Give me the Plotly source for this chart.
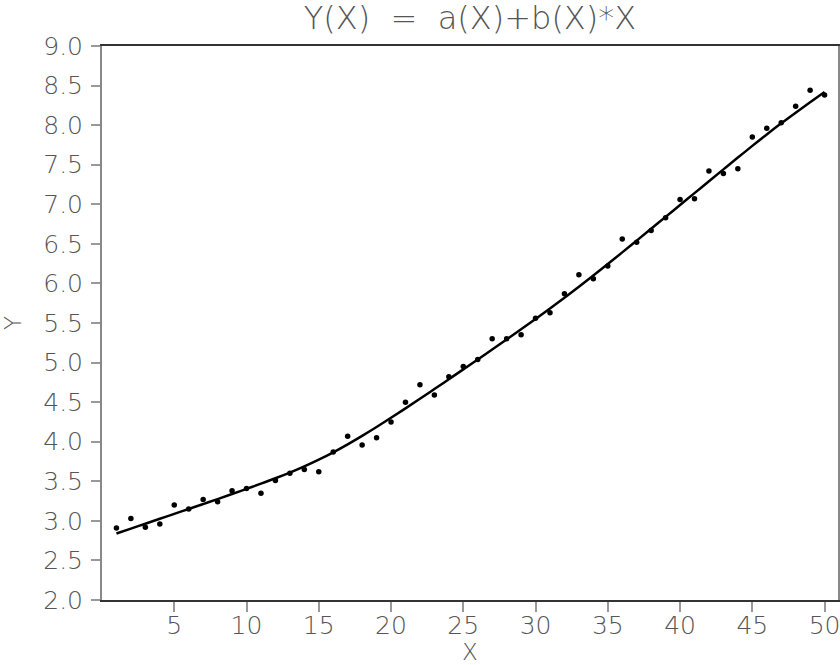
import plotly.graph_objects as go

x_vals = list(range(1, 51))
y_points = [2.91, 3.03, 2.92, 2.96, 3.20, 3.15, 3.27, 3.24, 3.38, 3.41,
            3.35, 3.51, 3.60, 3.65, 3.62, 3.87, 4.07, 3.96, 4.05, 4.25,
            4.50, 4.72, 4.59, 4.82, 4.95, 5.04, 5.30, 5.30, 5.35, 5.56,
            5.63, 5.87, 6.11, 6.06, 6.22, 6.56, 6.52, 6.67, 6.83, 7.06,
            7.07, 7.42, 7.39, 7.45, 7.85, 7.96, 8.03, 8.24, 8.44, 8.38]
y_fit = [2.840, 2.902, 2.964, 3.026, 3.088, 3.150, 3.212, 3.275, 3.339, 3.404,
         3.470, 3.538, 3.610, 3.688, 3.773, 3.866, 3.967, 4.074, 4.186, 4.302,
         4.421, 4.542, 4.665, 4.789, 4.914, 5.039, 5.165, 5.292, 5.420, 5.550,
         5.683, 5.819, 5.958, 6.100, 6.245, 6.392, 6.541, 6.691, 6.841, 6.991,
         7.141, 7.291, 7.441, 7.590, 7.738, 7.883, 8.023, 8.158, 8.290, 8.420]
x_ticks = [5, 10, 15, 20, 25, 30, 35, 40, 45, 50]
y_ticks = [2.0, 2.5, 3.0, 3.5, 4.0, 4.5, 5.0, 5.5, 6.0, 6.5, 7.0, 7.5, 8.0, 8.5, 9.0]
title_text = "Y(X)\u00a0\u00a0=\u00a0\u00a0a(X)+b(X)*X"

fig = go.Figure()
fig.add_trace(go.Scatter(x=x_vals, y=y_fit, mode="lines", line=dict(color="black", width=2.5, shape="spline"),
                         showlegend=False, hoverinfo="skip"))
fig.add_trace(go.Scatter(x=x_vals, y=y_points, mode="markers", marker=dict(color="black", size=5.5),
                         showlegend=False))

font_family = "DejaVu Sans ExtraLight, DejaVu Sans, sans-serif"
txt_color = "#555"
fig.update_layout(
    width=840, height=665,
    margin=dict(l=102, r=2, t=46, b=65, autoexpand=False),
    paper_bgcolor="white", plot_bgcolor="white",
    font=dict(family=font_family, color=txt_color, size=25),
    title=dict(text=title_text, xref="paper", x=0.5, xanchor="center",
               yref="container", y=0.973, yanchor="middle",
               font=dict(size=32, color=txt_color, family=font_family, weight=200)),
)
fig.update_xaxes(range=[0, 50.93], tickvals=x_ticks, ticktext=[str(v) for v in x_ticks],
                 ticks="outside", ticklen=10, tickcolor="#999", tickwidth=2,
                 showline=True, linecolor="#333", linewidth=2, mirror=True,
                 showgrid=False, zeroline=False, automargin=False,
                 ticklabelstandoff=-8, ticklabeloverflow="allow",
                 title=dict(text="X", standoff=20, font=dict(size=23, weight=200)),
                 tickfont=dict(size=25, weight=200))
fig.update_yaxes(range=[2.0, 9.0], tickvals=y_ticks, ticktext=[f"{v:.1f}" for v in y_ticks],
                 ticks="outside", ticklen=9, tickcolor="#999", tickwidth=2,
                 showline=True, linecolor="#888", linewidth=2, mirror=True,
                 showgrid=False, zeroline=False, automargin=False,
                 ticklabelstandoff=3, ticklabeloverflow="allow",
                 title=dict(text="Y", standoff=33, font=dict(size=23, weight=200)),
                 tickfont=dict(size=25, weight=200))

fig.write_html("out.html", config={"displayModeBar": False},
               post_script="document.body.style.margin='0';")
